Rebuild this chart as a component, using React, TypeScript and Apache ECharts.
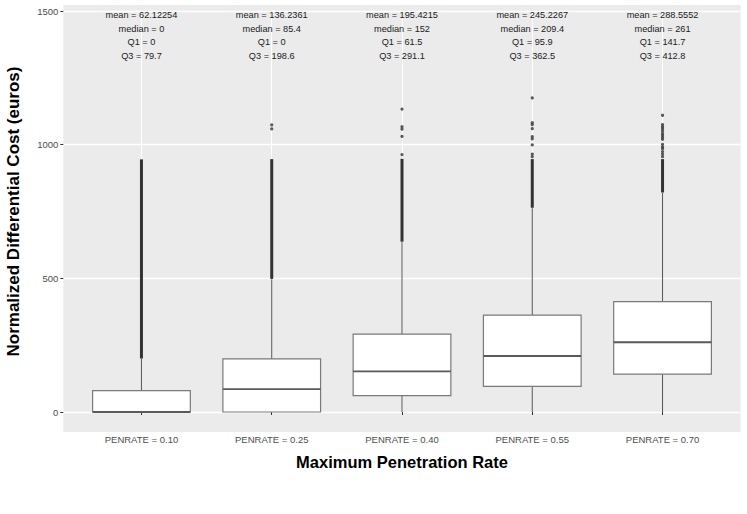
import React, { useEffect, useRef } from "react";
import * as echarts from "echarts";

const categories = ["PENRATE = 0.10", "PENRATE = 0.25", "PENRATE = 0.40", "PENRATE = 0.55", "PENRATE = 0.70"];
const meanValues = [62.12254, 136.2361, 195.4215, 245.2267, 288.5552];
const medianValues = [0, 85.4, 152, 209.4, 261];
const q1Values = [0, 0, 61.5, 95.9, 141.7];
const q3Values = [79.7, 198.6, 291.1, 362.5, 412.8];
const whiskerLow = [0, 0, 0, 0, 0];
const whiskerHigh = [199.2, 496.5, 635.5, 762.4, 819.5];
// dense runs of outliers (drawn as a solid column in the reference)
const denseOutlierLow = [200, 498, 637, 764, 821];
const denseOutlierHigh = [945, 946, 947, 946, 946];
// isolated outliers: [category index, value]
const sparseOutliers: [number, number][] = [
  [1, 1074], [1, 1059],
  [2, 1133], [2, 1067], [2, 1058], [2, 1031], [2, 963],
  [3, 1175], [3, 1082], [3, 1075], [3, 1060], [3, 1030], [3, 1022], [3, 999], [3, 965], [3, 955],
  [4, 1110], [4, 1075], [4, 1067], [4, 1060], [4, 1052], [4, 1042], [4, 1035], [4, 1027], [4, 1020],
  [4, 1001], [4, 992], [4, 985], [4, 974], [4, 965], [4, 955],
];
const yTicks = [0, 500, 1000, 1500];

const FONT = "'Liberation Sans', Arial, Helvetica, sans-serif";

export default function App() {
  const ref = useRef<HTMLDivElement>(null);
  useEffect(() => {
    const chart = echarts.init(ref.current!, null, { renderer: "svg" });
    const boxData = categories.map((_, i) => [
      i + 1, q1Values[i], medianValues[i], q3Values[i], whiskerLow[i], whiskerHigh[i],
    ]);
    const denseData = categories.map((_, i) => [i + 1, denseOutlierLow[i], denseOutlierHigh[i]]);
    const annotData = categories.map((_, i) => [i + 1, yTicks[yTicks.length - 1]]);
    const option: any = {
      animation: false,
      backgroundColor: "#ffffff",
      graphic: [
        {
          type: "rect",
          z: -10,
          silent: true,
          shape: { x: 63.3, y: 5, width: 677.4, height: 427 },
          style: { fill: "#ebebeb" },
        },
      ],
      grid: {
        left: 63.3,
        right: 6.3,
        top: 11,
        bottom: 102,
        containLabel: false,
        outerBoundsMode: "none",
      },
      xAxis: {
        type: "value",
        min: 0.4,
        max: 5.6,
        offset: 20,
        name: "Maximum Penetration Rate",
        nameLocation: "middle",
        nameGap: 21,
        nameTextStyle: { fontFamily: FONT, fontSize: 16.5, fontWeight: "bold", color: "#000" },
        axisLine: { show: false },
        axisTick: {
          show: true,
          length: 3,
          customValues: [1, 2, 3, 4, 5],
          lineStyle: { color: "#333333", width: 1 },
        },
        axisLabel: {
          customValues: [1, 2, 3, 4, 5],
          margin: 2.5,
          fontFamily: FONT,
          fontSize: 9.5,
          color: "#4d4d4d",
          formatter: (v: number) => (Number.isInteger(v) ? categories[v - 1] ?? "" : ""),
        },
        splitLine: { show: true, lineStyle: { color: "#ffffff", width: 1 } },
      },
      yAxis: {
        type: "value",
        min: yTicks[0],
        max: yTicks[yTicks.length - 1],
        interval: 500,
        name: "Normalized Differential Cost (euros)",
        nameLocation: "middle",
        nameGap: 41,
        nameRotate: 90,
        nameTextStyle: { fontFamily: FONT, fontSize: 17, fontWeight: "bold", color: "#000" },
        axisLine: { show: false },
        axisTick: { show: true, length: 3, lineStyle: { color: "#333333", width: 1 } },
        axisLabel: {
          margin: 5,
          fontFamily: FONT,
          fontSize: 9.5,
          color: "#4d4d4d",
          formatter: (v: number) => String(v),
        },
        splitLine: { show: true, lineStyle: { color: "#ffffff", width: 1.3 } },
      },
      series: [
        {
          type: "custom",
          name: "dense",
          data: denseData,
          encode: { x: 0, y: [1, 2] },
          z: 3,
          renderItem: (params: any, api: any) => {
            const x = api.value(0);
            const lo = api.coord([x, api.value(1)]);
            const hi = api.coord([x, api.value(2)]);
            return {
              type: "rect",
              shape: { x: lo[0] - 1.5, y: hi[1], width: 3, height: lo[1] - hi[1] },
              style: { fill: "#333333" },
            };
          },
        },
        {
          type: "scatter",
          name: "outliers",
          data: sparseOutliers.map(([c, v]) => [c + 1, v]),
          symbol: "circle",
          symbolSize: 3.2,
          itemStyle: { color: "#333333" },
          z: 3,
        },
        {
          type: "custom",
          name: "box",
          data: boxData,
          encode: { x: 0, y: [1, 2, 3, 4, 5] },
          z: 4,
          renderItem: (params: any, api: any) => {
            const x = api.value(0);
            const halfW = api.size([0.75, 0])[0] / 2;
            const pQ1 = api.coord([x, api.value(1)]);
            const pMed = api.coord([x, api.value(2)]);
            const pQ3 = api.coord([x, api.value(3)]);
            const pLo = api.coord([x, api.value(4)]);
            const pHi = api.coord([x, api.value(5)]);
            const cx = pQ1[0];
            return {
              type: "group",
              children: [
                {
                  type: "line",
                  shape: { x1: cx, y1: pQ3[1], x2: cx, y2: pHi[1] },
                  style: { stroke: "#555555", lineWidth: 1 },
                },
                {
                  type: "line",
                  shape: { x1: cx, y1: pQ1[1], x2: cx, y2: pLo[1] },
                  style: { stroke: "#555555", lineWidth: 1 },
                },
                {
                  type: "rect",
                  shape: { x: cx - halfW, y: pQ3[1], width: halfW * 2, height: pQ1[1] - pQ3[1] },
                  style: { fill: "#ffffff", stroke: "#7a7a7a", lineWidth: 1.2 },
                },
                {
                  type: "line",
                  shape: { x1: cx - halfW, y1: pMed[1], x2: cx + halfW, y2: pMed[1] },
                  style: { stroke: "#5a5a5a", lineWidth: 1.8 },
                },
              ],
            };
          },
        },
        {
          type: "custom",
          name: "annotations",
          data: annotData,
          encode: { x: 0, y: 1 },
          z: 5,
          renderItem: (params: any, api: any) => {
            const i = params.dataIndex;
            const p = api.coord([api.value(0), api.value(1)]);
            const text =
              `mean = ${meanValues[i]}\n` +
              `median = ${medianValues[i]}\n` +
              `Q1 = ${q1Values[i]}\n` +
              `Q3 = ${q3Values[i]}`;
            return {
              type: "text",
              x: p[0],
              y: p[1] - 2.75,
              style: {
                text,
                align: "center",
                verticalAlign: "top",
                fontFamily: FONT,
                fontSize: 9.2,
                lineHeight: 13.5,
                fill: "#1a1a1a",
              },
            };
          },
        },
      ],
    };
    chart.setOption(option);
    return () => chart.dispose();
  }, []);
  return (
    <div
      ref={ref}
      style={{ position: "fixed", left: 0, top: 0, width: 747, height: 514, background: "#ffffff" }}
    />
  );
}
